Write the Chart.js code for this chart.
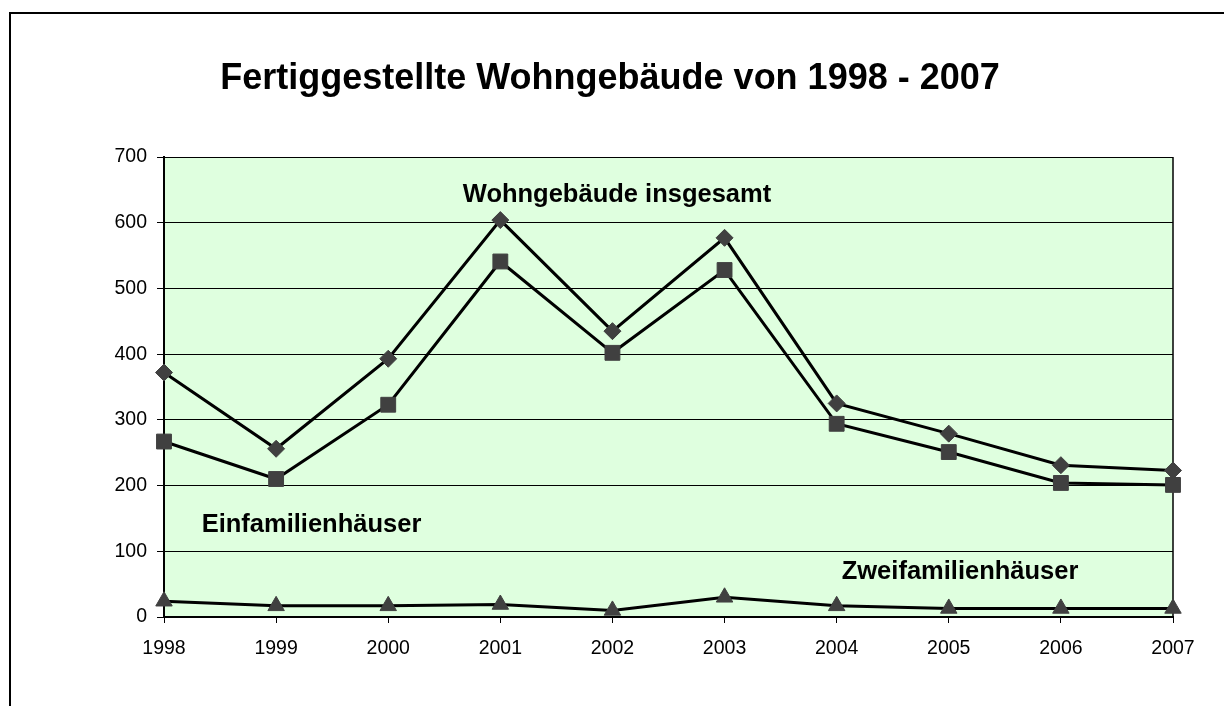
<!DOCTYPE html>
<html lang="de">
<head>
<meta charset="utf-8">
<title>Fertiggestellte Wohngebäude</title>
<script src="https://cdn.jsdelivr.net/npm/chart.js@4.4.1/dist/chart.umd.min.js"></script>
<style>
    html, body { margin: 0; padding: 0; background: #ffffff; }
    #wrap { position: relative; width: 1224px; height: 706px; }
</style>
</head>
<body>
<div id="wrap"><canvas id="wohnChart"></canvas></div>
<script>
// Jahre und Werte
const jahre = ['1998', '1999', '2000', '2001', '2002', '2003', '2004', '2005', '2006', '2007'];
const insgesamt = [372, 256, 393, 604, 435, 577, 325, 279, 231, 223];
const einfamilien = [267, 210, 323, 541, 402, 528, 294, 251, 204, 201];
const zweifamilien = [24, 17, 17, 19, 10, 30, 17, 13, 13, 13];
const yTicks = [0, 100, 200, 300, 400, 500, 600, 700];

const titel = 'Fertiggestellte Wohngebäude von 1998 - 2007';

// Beschriftungen im Diagramm: [Text, x (Kategorie-Index), y (Wert)]
const beschriftungen = [
    ['Wohngebäude insgesamt', 2.665, 632],
    ['Einfamilienhäuser', 0.336, 129],
    ['Zweifamilienhäuser', 6.045, 58]
];

const fontFamily = 'Arial, "Liberation Sans", Helvetica, sans-serif';
const markerColor = '#404040';

// Rahmen, Überschrift und grüne Zeichenfläche
const plotFrame = {
    id: 'plotFrame',
    beforeDraw(chart) {
        const ctx = chart.ctx;
        const a = chart.chartArea;
        ctx.save();
        ctx.strokeStyle = '#000000';
        ctx.lineWidth = 2;
        ctx.beginPath();
        ctx.moveTo(10, chart.height + 5);
        ctx.lineTo(10, 13);
        ctx.lineTo(chart.width + 5, 13);
        ctx.stroke();

        ctx.fillStyle = '#000000';
        ctx.font = 'bold 36px ' + fontFamily;
        ctx.textAlign = 'center';
        ctx.textBaseline = 'alphabetic';
        ctx.fillText(titel, chart.width / 2 - 2, 89);

        ctx.fillStyle = '#dfffdf';
        ctx.fillRect(a.left, a.top, a.right - a.left, a.bottom - a.top);
        ctx.restore();
    },
    beforeDatasetsDraw(chart) {
        const ctx = chart.ctx;
        const a = chart.chartArea;
        ctx.save();
        ctx.strokeStyle = '#000000';
        ctx.lineWidth = 1.5;
        ctx.beginPath();
        ctx.moveTo(a.right, a.top);
        ctx.lineTo(a.right, a.bottom);
        ctx.stroke();
        ctx.restore();
    }
};

// Reihenbeschriftungen an Datenkoordinaten
const seriesLabels = {
    id: 'seriesLabels',
    afterDatasetsDraw(chart) {
        const ctx = chart.ctx;
        const xs = chart.scales.x;
        const ys = chart.scales.y;
        const step = xs.getPixelForValue(1) - xs.getPixelForValue(0);
        ctx.save();
        ctx.fillStyle = '#000000';
        ctx.font = 'bold 25.5px ' + fontFamily;
        ctx.textAlign = 'left';
        ctx.textBaseline = 'alphabetic';
        beschriftungen.forEach(b => {
            const px = xs.getPixelForValue(0) + b[1] * step;
            const py = ys.getPixelForValue(b[2]);
            ctx.fillText(b[0], px, py);
        });
        ctx.restore();
    }
};

function serie(label, data, style, radius) {
    return {
        label: label,
        data: data,
        borderColor: '#000000',
        borderWidth: 3,
        pointStyle: style,
        pointRadius: radius,
        pointBackgroundColor: markerColor,
        pointBorderColor: markerColor,
        pointBorderWidth: 1,
        tension: 0,
        fill: false,
        clip: false
    };
}

const ctx = document.getElementById('wohnChart').getContext('2d');
new Chart(ctx, {
    type: 'line',
    data: {
        labels: jahre,
        datasets: [
            serie('Wohngebäude insgesamt', insgesamt, 'rectRot', 8.5),
            serie('Einfamilienhäuser', einfamilien, 'rect', 10.5),
            serie('Zweifamilienhäuser', zweifamilien, 'triangle', 9.5)
        ]
    },
    options: {
        responsive: true,
        maintainAspectRatio: false,
        animation: false,
        layout: {
            padding: { left: 0, right: 51, top: 157, bottom: 0 }
        },
        plugins: {
            legend: { display: false },
            tooltip: { enabled: false },
            title: { display: false }
        },
        scales: {
            x: {
                type: 'category',
                offset: false,
                grid: {
                    drawOnChartArea: false,
                    drawTicks: true,
                    tickLength: 6,
                    color: '#000000'
                },
                border: { display: true, color: '#000000', width: 2 },
                ticks: {
                    color: '#000000',
                    padding: 14,
                    maxRotation: 0,
                    autoSkip: false,
                    font: { family: fontFamily, size: 19.5 }
                },
                afterFit(scale) { scale.height = 89; }
            },
            y: {
                min: 0,
                max: 700,
                afterBuildTicks(scale) {
                    scale.ticks = yTicks.map(v => ({ value: v }));
                },
                grid: {
                    color: '#000000',
                    lineWidth: 1,
                    drawTicks: true,
                    tickLength: 7
                },
                border: { display: true, color: '#000000', width: 2 },
                ticks: {
                    color: '#000000',
                    padding: 10,
                    font: { family: fontFamily, size: 19.5 }
                },
                afterFit(scale) { scale.width = 164; }
            }
        }
    },
    plugins: [plotFrame, seriesLabels]
});
</script>
</body>
</html>
